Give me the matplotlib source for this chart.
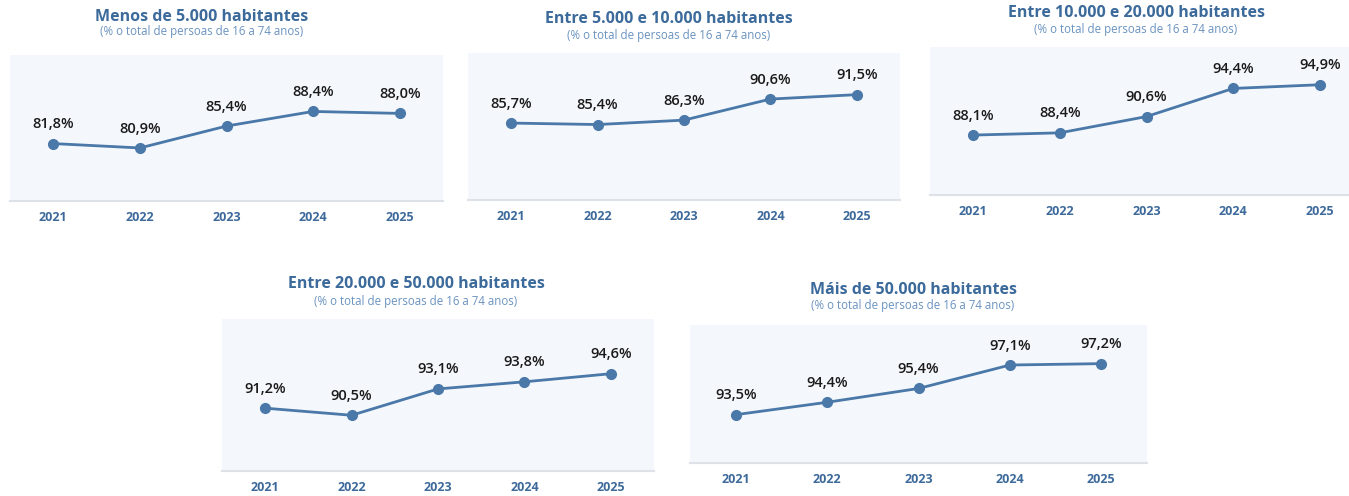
import matplotlib
matplotlib.use("Agg")
import matplotlib.pyplot as plt

plt.rcParams['font.family'] = ['Open Sans', 'DejaVu Sans']

years = ["2021", "2022", "2023", "2024", "2025"]
titles = ["Menos de 5.000 habitantes",
          "Entre 5.000 e 10.000 habitantes",
          "Entre 10.000 e 20.000 habitantes",
          "Entre 20.000 e 50.000 habitantes",
          "Máis de 50.000 habitantes"]
subtitle = "(% o total de persoas de 16 a 74 anos)"

v_menos5 = [81.8, 80.9, 85.4, 88.4, 88.0]
v_5_10 = [85.7, 85.4, 86.3, 90.6, 91.5]
v_10_20 = [88.1, 88.4, 90.6, 94.4, 94.9]
v_20_50 = [91.2, 90.5, 93.1, 93.8, 94.6]
v_mais50 = [93.5, 94.4, 95.4, 97.1, 97.2]
series = [v_menos5, v_5_10, v_10_20, v_20_50, v_mais50]
ylims = [(70, 100), (70, 100), (80, 100), (85, 100), (90, 100)]

W, H = 1349, 496
# pixel boxes: x0, x1, ytop, ybottom ; title center x, title y, subtitle y
boxes = [(10, 443, 55, 201, 202, 17, 32),
         (468, 900, 53, 200, 669, 19, 36),
         (930, 1363, 47, 195, 1136, 13, 29),
         (222, 654, 319, 471, 416, 284, 301),
         (690, 1147, 325, 463, 913, 290, 305)]

line_c = "#4a78a8"
title_c = "#3b6a9b"
sub_c = "#6a93c0"
tick_c = "#3d6a9a"
bg_c = "#f4f7fb"

fig = plt.figure(figsize=(W / 100, H / 100), dpi=100)
for vals, title, yl, b in zip(series, titles, ylims, boxes):
    x0, x1, yt, yb, tx, ty, sy = b
    ax = fig.add_axes([x0 / W, 1 - yb / H, (x1 - x0) / W, (yb - yt) / H])
    ax.set_facecolor(bg_c)
    xs = list(range(len(years)))
    ax.plot(xs, vals, color=line_c, lw=2, marker="o", ms=7, zorder=3)
    for x, v in zip(xs, vals):
        ax.annotate(f"{v:.1f}%".replace(".", ","), (x, v), xytext=(0, 14),
                    textcoords="offset points", ha="center", va="center",
                    fontsize=10.5, fontweight="semibold", color="#1a1a1a")
    ax.set_xlim(-0.5, 4.5)
    ax.set_ylim(*yl)
    ax.set_xticks(xs)
    ax.set_xticklabels(years, fontsize=9, fontweight="bold", color=tick_c)
    ax.tick_params(axis="x", length=0, pad=7.5)
    ax.set_yticks([])
    for s in ["top", "left", "right"]:
        ax.spines[s].set_visible(False)
    ax.spines["bottom"].set_color("#dde2e8")
    ax.spines["bottom"].set_linewidth(1.5)
    fig.text(tx / W, 1 - ty / H, title, ha="center", va="center",
             fontsize=11.5, fontweight="bold", color=title_c)
    fig.text(tx / W, 1 - sy / H, subtitle, ha="center", va="center",
             fontsize=8.3, color=sub_c)

fig.savefig("out.png", dpi=100)
